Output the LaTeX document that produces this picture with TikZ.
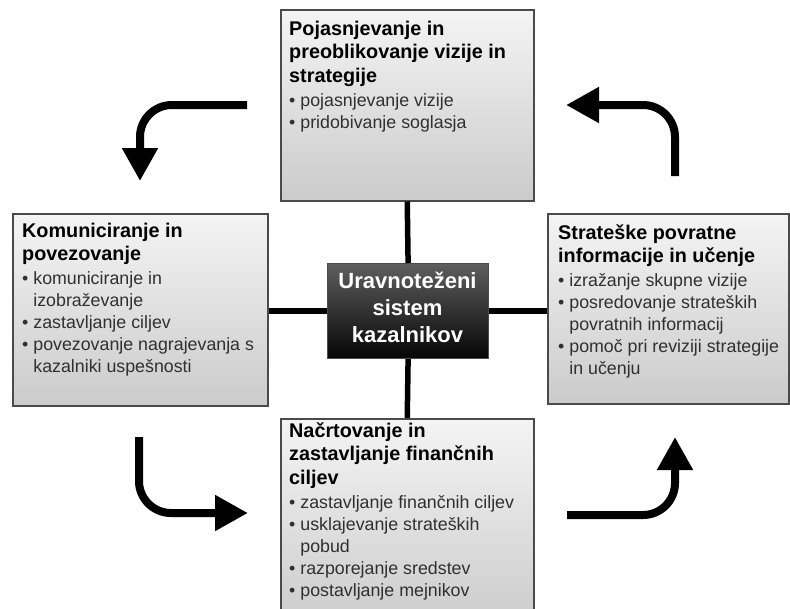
\documentclass[tikz,border=0pt]{standalone}
\usepackage{fontspec}
\setmainfont{Liberation Sans}
\usetikzlibrary{arrows.meta}
\definecolor{bordergray}{HTML}{4A4A4A}
\definecolor{boxtop}{HTML}{F4F4F4}
\definecolor{boxbottom}{HTML}{CBCBCB}
\definecolor{ctrtop}{HTML}{5E5E5E}
\definecolor{ctrbottom}{HTML}{050505}
\definecolor{bultext}{HTML}{303030}
\newcommand\hd[1]{\baselineskip=23.7pt\hbox{\fontsize{19.8}{23.7}\selectfont\bfseries #1}}
\newcommand\bfst[1]{\baselineskip=24pt\hbox{\fontsize{17.8}{21.9}\selectfont\color{bultext}•\ #1}}
\newcommand\bl[1]{\baselineskip=21.9pt\hbox{\fontsize{17.8}{21.9}\selectfont\color{bultext}•\ #1}}
\newcommand\cn[1]{\baselineskip=21.9pt\hbox{\fontsize{17.8}{21.9}\selectfont\color{bultext}\hphantom{•\ }#1}}
\tikzset{
  panel/.style={draw=bordergray, line width=1.5pt, top color=boxtop, bottom color=boxbottom, inner sep=0pt, anchor=north west},
  hub/.style={draw=gray!60!black, line width=1.2pt, top color=ctrtop, bottom color=ctrbottom, inner sep=0pt, anchor=north west},
  paneltext/.style={anchor=base west, inner sep=0pt, text=black},
  hubtext/.style={align=center, text=white, font=\fontsize{22}{27}\selectfont\bfseries, inner sep=0pt},
  link/.style={line width=5.5pt, draw=black},
  bigarrow/.style={line width=8pt, draw=black, rounded corners=32pt, -{Triangle[width=34pt,length=33pt]}}
}
\begin{document}
\begin{tikzpicture}[x=1pt,y=-1pt]
\useasboundingbox (0,0) rectangle (790,608);
% panels
\node[panel, minimum width=253pt, minimum height=191pt] (top) at (280,9) {};
\node[panel, minimum width=255pt, minimum height=192pt] (left) at (12,213) {};
\node[panel, minimum width=241pt, minimum height=190pt] (right) at (547,213) {};
\node[panel, minimum width=253pt, minimum height=210pt] (bottom) at (280,418) {};
\node[hub, minimum width=161pt, minimum height=95pt] (hub) at (327,263) {};
% connectors
\draw[link] (top.south) -- (hub.north);
\draw[link] (hub.south) -- (bottom.north);
\draw[link] (hub.west) -- (hub.west -| left.east);
\draw[link] (hub.east) -- (hub.east -| right.west);
% texts
\node[paneltext] (toptext) at (289,35) {\vtop{\hd{Pojasnjevanje in}\hd{preoblikovanje vizije in}\hd{strategije}\bfst{pojasnjevanje vizije}\bl{pridobivanje soglasja}}};
\node[paneltext] (lefttext) at (22,237) {\vtop{\hd{Komuniciranje in}\hd{povezovanje}\bfst{komuniciranje in}\cn{izobraževanje}\bl{zastavljanje ciljev}\bl{povezovanje nagrajevanja s}\cn{kazalniki uspešnosti}}};
\node[paneltext] (righttext) at (558,239) {\vtop{\hd{Strateške povratne}\hd{informacije in učenje}\bfst{izražanje skupne vizije}\bl{posredovanje strateških}\cn{povratnih informacij}\bl{pomoč pri reviziji strategije}\cn{in učenju}}};
\node[paneltext] (bottomtext) at (289,437) {\vtop{\hd{Načrtovanje in}\hd{zastavljanje finančnih}\hd{ciljev}\bfst{zastavljanje finančnih ciljev}\bl{usklajevanje strateških}\cn{pobud}\bl{razporejanje sredstev}\bl{postavljanje mejnikov}}};
\node[hubtext] (hubtext) at (407.5,307) {Uravnoteženi\\sistem\\kazalnikov};
% cycle arrows
\coordinate (a1s) at (247,105); \coordinate (a1e) at (140,181);
\coordinate (a2s) at (675,176); \coordinate (a2e) at (566,105);
\coordinate (a3s) at (139,437); \coordinate (a3e) at (248,513);
\coordinate (a4s) at (567,515); \coordinate (a4e) at (675,437);
\draw[bigarrow] (a1s) -| (a1e);
\draw[bigarrow] (a2s) |- (a2e);
\draw[bigarrow] (a3s) |- (a3e);
\draw[bigarrow] (a4s) -| (a4e);
\end{tikzpicture}
\end{document}
